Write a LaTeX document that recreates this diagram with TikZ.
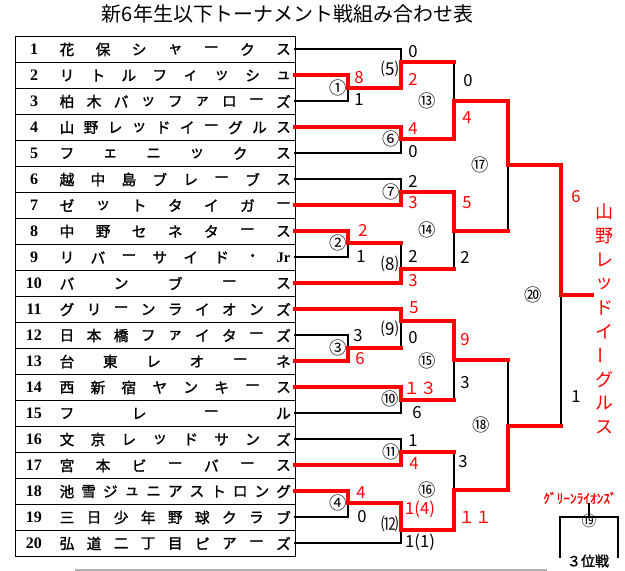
\documentclass[tikz,border=0pt]{standalone}
\usepackage{fontspec}
\setmainfont{Noto Sans CJK JP}
\newfontfamily\numfont{Liberation Serif}
\newfontfamily\boldjp{Noto Sans CJK JP}[FakeBold=1.5]

\tikzset{
  grid/.style={line width=0.75pt},
  lose/.style={line width=1.5pt, line cap=rect},
  win/.style={line width=3pt, red, line cap=rect},
  rowno/.style={font=\numfont\bfseries\fontsize{12}{12}\selectfont, inner sep=0pt},
  teamch/.style={font=\boldjp\fontsize{11}{11}\selectfont, inner sep=0pt},
  matchno/.style={font=\fontsize{13}{13}\selectfont, inner sep=0pt},
  score/.style={font=\fontsize{12.5}{12.5}\selectfont, inner sep=0pt},
  champ/.style={font=\fontsize{13.5}{13.5}\selectfont, red, inner sep=0pt},
}

\newcommand{\team}[3]{%
  \coordinate (t#1) at (295, 23+26*#1);
  \node[rowno] (no#1) at (34, 23.5+26*#1) {#1};
  \foreach \ch [count=\k] in {#3}
    \node[teamch] (c#1-\k) at ({67+(\k-1)*216.5/(#2-1)}, 23.5+26*#1) {\ch};
}

\begin{document}
\begin{tikzpicture}[x=0.75pt, y=-0.75pt]
  \useasboundingbox (0,0) rectangle (625,571);

  \node[font=\fontsize{15}{15}\selectfont, inner sep=0pt] (title) at (287.5,14) {新6年生以下トーナメント戦組み合わせ表};

  \draw[grid] (15,36.5) rectangle (295,556.5);
  \foreach \i in {1,...,19}
    \draw[grid] (15,36.5+26*\i) -- (295,36.5+26*\i);

  \team{1}{7}{花,保,シ,ャ,ー,ク,ス}
  \team{2}{8}{リ,ト,ル,フ,ィ,ッ,シ,ュ}
  \team{3}{9}{柏,木,バ,ッ,フ,ァ,ロ,ー,ズ}
  \team{4}{10}{山,野,レ,ッ,ド,イ,ー,グ,ル,ス}
  \team{5}{6}{フ,ェ,ニ,ッ,ク,ス}
  \team{6}{8}{越,中,島,ブ,レ,ー,ブ,ス}
  \team{7}{7}{ゼ,ッ,ト,タ,イ,ガ,ー}
  \team{8}{7}{中,野,セ,ネ,タ,ー,ス}
  \team{9}{8}{リ,バ,ー,サ,イ,ド,・,{\numfont\bfseries Jr}}
  \team{10}{5}{バ,ン,ブ,ー,ス}
  \team{11}{9}{グ,リ,ー,ン,ラ,イ,オ,ン,ズ}
  \team{12}{9}{日,本,橋,フ,ァ,イ,タ,ー,ズ}
  \team{13}{6}{台,東,レ,オ,ー,ネ}
  \team{14}{8}{西,新,宿,ヤ,ン,キ,ー,ス}
  \team{15}{4}{フ,レ,ー,ル}
  \team{16}{8}{文,京,レ,ッ,ド,サ,ン,ズ}
  \team{17}{7}{宮,本,ビ,ー,バ,ー,ス}
  \team{18}{11}{池,雪,ジ,ュ,ニ,ア,ス,ト,ロ,ン,グ}
  \team{19}{9}{三,日,少,年,野,球,ク,ラ,ブ}
  \team{20}{9}{弘,道,二,丁,目,ピ,ア,ー,ズ}

  \foreach \n/\x/\y in {1/348/88, 2/348/243, 3/348/348, 4/348/503,
      5/401/62, 6/401/139, 7/401/192, 8/401/269, 9/401/321, 10/401/400, 11/401/452, 12/401/530,
      13/454/101, 14/454/231, 15/454/360, 16/454/490, 17/508/165, 18/508/426, 20/561/295}
    \coordinate (m\n) at (\x,\y);
  \coordinate (champ) at (592,295);

  \foreach \a/\b in {t3/m1, t9/m2, t12/m3, t19/m4, t1/m5, t5/m6, t6/m7, t15/m10, t16/m11, t20/m12}
    \draw[lose] (\a) -| (\b);
  \foreach \a/\b in {m2/m8, m3/m9, m5/m13, m8/m14, m10/m15, m11/m16, m14/m17, m15/m18, m18/m20}
    {\draw[lose] (\a -| \b) -- (\b);
     \draw[win] (\a) -- (\a -| \b);}
  \foreach \a/\b in {t2/m1, t8/m2, t13/m3, t18/m4, m1/m5, t4/m6, t7/m7, t10/m8, t11/m9, t14/m10,
      t17/m11, m4/m12, m6/m13, m7/m14, m9/m15, m12/m16, m13/m17, m16/m18, m17/m20}
    \draw[win] (\a) -| (\b);
  \draw[win] (m20) -- (champ);

  \foreach \n/\x/\y/\s in {1/338/88/①, 2/338/243/②, 3/338/348/③, 4/338/503/④,
      5/390/69/⑸, 6/391/139/⑥, 7/391/192/⑦, 8/390/264/⑻, 9/390/329/⑼, 10/390/399/⑩,
      11/391/452/⑪, 12/390/524/⑿, 13/427/101/⑬, 14/427/230/⑭, 15/427/361/⑮, 16/427/490/⑯,
      17/480/165/⑰, 18/481/425/⑱, 20/533/295/⑳}
    \node[matchno] (lab\n) at (\x,\y) {\s};

  \foreach \x/\y/\s [count=\k] in {359/100/1, 361/257/1, 358/336/3, 362/517/0, 413/52/0, 413/152/0,
      413/181/2, 413/256/2, 413/338/0, 417/413/6, 413/441/1, 420/542/1(1), 468/81/0, 465/257/2,
      465/383/3, 463/462/3, 576/397/1}
    \node[score] (bs\k) at (\x,\y) {\s};
  \foreach \x/\y/\s [count=\k] in {359/78/8, 363/230/2, 360/359/6, 361/493/4, 413/79/2, 413/129/4,
      413/203/3, 413/281/3, 414/308/5, 420/388/１３, 414/464/4, 420/509/1(4), 467/118/4, 467/203/5,
      465/340/9, 475/517/１１, 576/197/6}
    \node[score, red] (rs\k) at (\x,\y) {\s};

  \foreach \ch/\r [count=\k] in {山/0, 野/0, レ/0, ッ/0, ド/0, イ/0, ー/90, グ/0, ル/0, ス/0}
    \node[champ, rotate=\r] (w\k) at (604, {212+(\k-1)*23.9}) {\ch};

  \node[font=\boldjp\fontsize{10}{10}\selectfont, red, inner sep=0pt] (third) at (580,498) {ｸﾞﾘｰﾝﾗｲｵﾝｽﾞ};
  \coordinate (b3) at (589,517);
  \draw[lose] (third.south -| b3) -- (b3);
  \draw[lose] (560,557) -- (560,517) -- (618,517) -- (618,557);
  \node[matchno, font=\fontsize{11}{11}\selectfont] (lab19) at (589,521) {⑲};
  \node[font=\boldjp\fontsize{10.5}{10.5}\selectfont, inner sep=0pt] (bout3) at (588,561) {３位戦};

  \draw[gray!60, line width=1.5pt] (75,570) -- (547,570);
\end{tikzpicture}
\end{document}
